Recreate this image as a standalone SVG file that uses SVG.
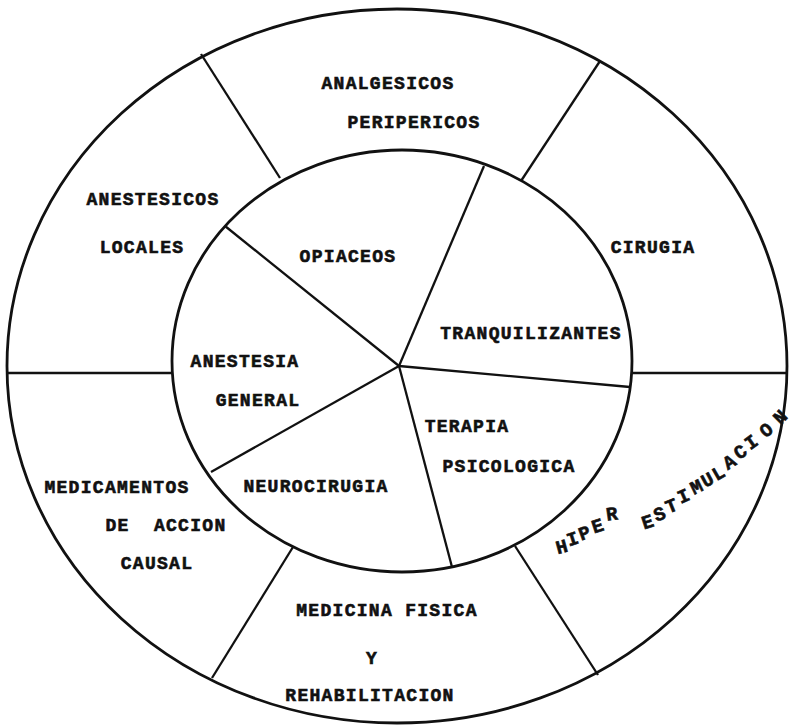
<svg xmlns="http://www.w3.org/2000/svg" width="794" height="726" viewBox="0 0 794 726">
<style>
.ring{fill:none;stroke:#111;stroke-width:2.8}
.sp{stroke:#111;stroke-width:2.3;fill:none}
text{font-family:"Liberation Mono","Courier New",monospace;font-weight:bold;font-size:18px;fill:#111;stroke:#111;stroke-width:0.6;text-anchor:middle;letter-spacing:1.3px}
.arc text{font-size:19px;letter-spacing:0;dominant-baseline:central}
</style>
<rect width="794" height="726" fill="#fff"/>
<g id="outlines">
<ellipse class="ring" cx="397" cy="366" rx="390" ry="357"/>
<ellipse class="ring" cx="402" cy="361" rx="230" ry="211"/>
</g>
<g id="connectors">
<line class="sp" x1="399" y1="366" x2="225" y2="226"/>
<line class="sp" x1="399" y1="366" x2="484" y2="166"/>
<line class="sp" x1="399" y1="366" x2="630" y2="387"/>
<line class="sp" x1="399" y1="366" x2="211" y2="472"/>
<line class="sp" x1="399" y1="366" x2="452" y2="567"/>
<line class="sp" x1="201" y1="54" x2="280" y2="178"/>
<line class="sp" x1="600" y1="61" x2="521" y2="181"/>
<line class="sp" x1="7" y1="373" x2="172" y2="373"/>
<line class="sp" x1="632" y1="373" x2="787" y2="373"/>
<line class="sp" x1="212" y1="678" x2="293" y2="547"/>
<line class="sp" x1="598" y1="675" x2="515" y2="546"/>
</g>
<g id="analgesicos-perifericos"><text x="388" y="89">ANALGESICOS</text><text x="414" y="128">PERIPERICOS</text></g>
<g id="anestesicos-locales"><text x="153" y="205">ANESTESICOS</text><text x="142" y="253">LOCALES</text></g>
<g id="cirugia"><text x="653" y="253">CIRUGIA</text></g>
<g id="opiaceos"><text x="348" y="262">OPIACEOS</text></g>
<g id="tranquilizantes"><text x="531" y="339">TRANQUILIZANTES</text></g>
<g id="anestesia-general"><text x="245" y="367">ANESTESIA</text><text x="258" y="406">GENERAL</text></g>
<g id="terapia-psicologica"><text x="467" y="432">TERAPIA</text><text x="509" y="472">PSICOLOGICA</text></g>
<g id="neurocirugia"><text x="316" y="492">NEUROCIRUGIA</text></g>
<g id="medicamentos"><text x="117" y="493">MEDICAMENTOS</text><text x="166" y="531" xml:space="preserve">DE  ACCION</text><text x="157" y="569">CAUSAL</text></g>
<g id="medicina-fisica"><text x="387" y="616">MEDICINA FISICA</text><text x="372" y="664">Y</text><text x="370" y="701">REHABILITACION</text></g>
<g id="hiperestimulacion" class="arc">
<text transform="translate(562,548) rotate(-15)">H</text>
<text transform="translate(573,540) rotate(-18)">I</text>
<text transform="translate(585,534) rotate(-20)">P</text>
<text transform="translate(598,527) rotate(-18)">E</text>
<text transform="translate(612,515) rotate(-8)">R</text>
<text transform="translate(648,523) rotate(-18)">E</text>
<text transform="translate(660,515) rotate(-20)">S</text>
<text transform="translate(672,507) rotate(-22)">T</text>
<text transform="translate(684,497) rotate(-24)">I</text>
<text transform="translate(697,488) rotate(-26)">M</text>
<text transform="translate(708,481) rotate(-28)">U</text>
<text transform="translate(719,474) rotate(-30)">L</text>
<text transform="translate(730,463) rotate(-32)">A</text>
<text transform="translate(741,453) rotate(-34)">C</text>
<text transform="translate(752,443) rotate(-36)">I</text>
<text transform="translate(767,431) rotate(-38)">O</text>
<text transform="translate(781,418) rotate(-45)">N</text>
</g>
</svg>
